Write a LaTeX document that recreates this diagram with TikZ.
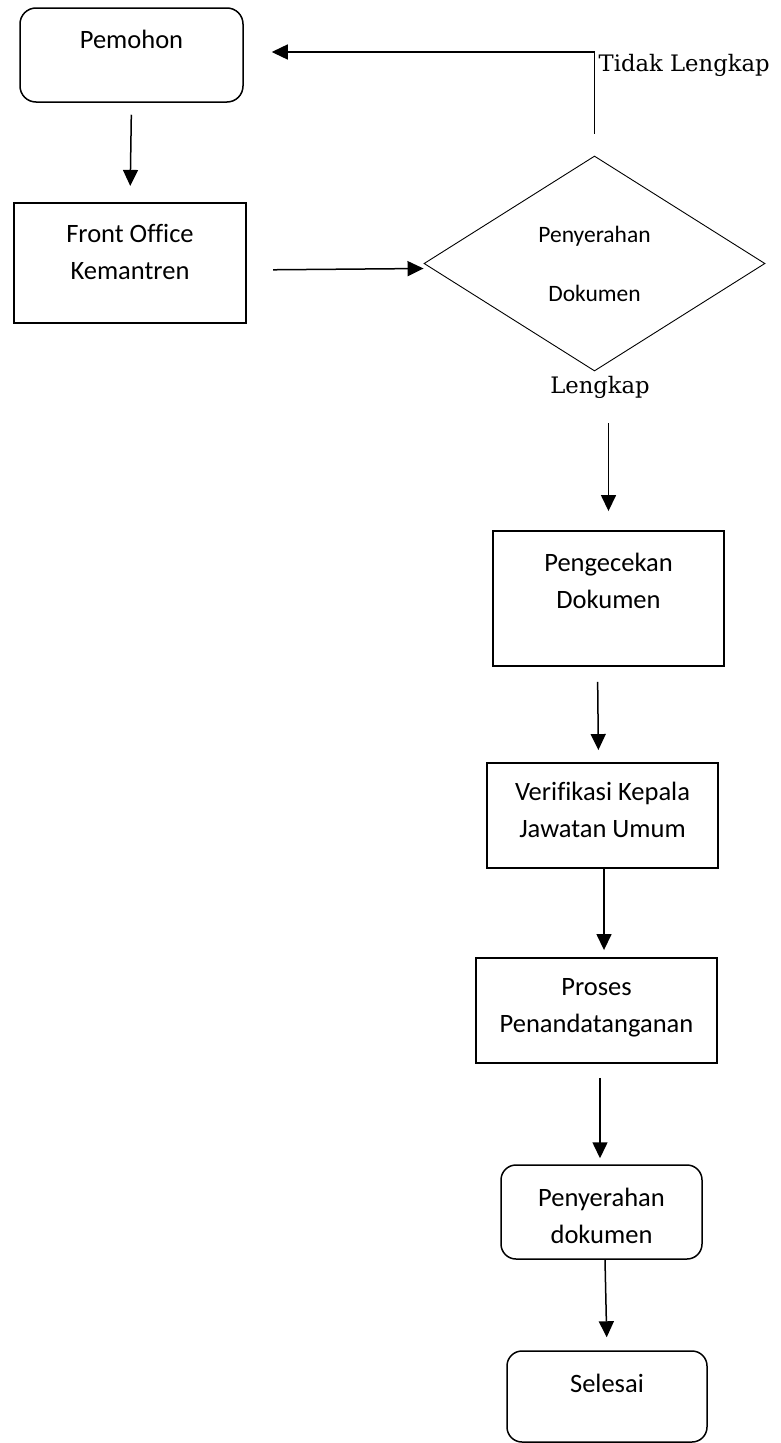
\documentclass[tikz,border=0pt]{standalone}
\usepackage{fontspec}
\setmainfont[Ligatures=NoCommon]{Carlito}
\newfontfamily\labelfont{DejaVu Serif}
\usetikzlibrary{shapes.geometric,arrows.meta}

% fixed-size box content: width, height, first baseline from top, text
\newcommand{\boxtxt}[4]{\parbox[c][#2][t]{#1}{\centering\rule{0pt}{#3}#4}}

\begin{document}
\begin{tikzpicture}[x=1pt,y=-1pt,
  proc/.style={draw, line width=1.9pt, inner sep=0pt, font=\fontsize{26.5}{37}\selectfont},
  term/.style={draw, line width=1.5pt, rounded corners=16pt, inner sep=0pt, font=\fontsize{26.5}{37}\selectfont},
  decision/.style={draw, diamond, line width=0.9pt, inner sep=0pt, aspect=1.586,
    minimum width=341pt, minimum height=215pt, align=center, font=\fontsize{23.5}{59}\selectfont},
  lbl/.style={inner sep=0pt, font=\labelfont\fontsize{22.7}{27}\selectfont},
  flowarrow/.style={draw, line width=1.5pt, -{Triangle[length=16pt,width=15pt]}}]

\useasboundingbox (0,0) rectangle (780,1443);

% process nodes
\node[term] (pem) at (131.5,55) {\boxtxt{223pt}{94pt}{40pt}{Pemohon}};
\node[proc, line width=2.2pt] (fo) at (130,263) {\boxtxt{232pt}{120pt}{39pt}{Front Office\\Kemantren}};
\node[decision] (dia) at (594.5,263.5) {Penyerahan\\Dokumen};
\node[proc] (cek) at (608.5,598.5) {\boxtxt{231pt}{135pt}{40pt}{Pengecekan\\Dokumen}};
\node[proc] (ver) at (602.5,815.5) {\boxtxt{231pt}{105pt}{37pt}{Verifikasi Kepala\\Jawatan Umum}};
\node[proc] (pro) at (596.5,1010.5) {\boxtxt{241pt}{105pt}{37pt}{Proses\\Penandatanganan}};
\node[term, rounded corners=15pt] (pen) at (601.5,1212) {\boxtxt{201pt}{94pt}{41pt}{Penyerahan\\dokumen}};
\node[term, rounded corners=15pt] (sel) at (607,1396.5) {\boxtxt{200pt}{91pt}{41pt}{Selesai}};

% branch labels
\node[lbl, anchor=base west] (tl) at (598.5,71) {Tidak Lengkap};
\node[lbl, anchor=base] (lk) at (600,393) {Lengkap};

% connectors
\draw[flowarrow, shorten <=12pt, shorten >=16pt] (pem.south) -- (fo.north);
\draw[flowarrow, shorten <=26pt] ([yshift=-7pt]fo.east) -- ([yshift=-5pt]dia.west);
\draw[flowarrow, line width=1.4pt, shorten <=22pt, shorten >=28pt] (dia.north) |- ([yshift=3pt]pem.east);
\draw[flowarrow, shorten <=52pt, shorten >=19pt] (dia.south -| cek.north) -- (cek.north);
\draw[flowarrow, shorten <=15pt, shorten >=12pt] ([xshift=-11pt]cek.south) -- ([xshift=-4pt]ver.north);
\draw[flowarrow, shorten >=7pt] ([xshift=1.5pt]ver.south) -- ([xshift=1.5pt]ver.south |- pro.north);
\draw[flowarrow, shorten <=14pt, shorten >=6pt] ([xshift=-1.5pt]pen.north |- pro.south) -- ([xshift=-1.5pt]pen.north);
\draw[flowarrow, shorten >=13pt] ([xshift=3.5pt]pen.south) -- (sel.north);
\end{tikzpicture}
\end{document}
